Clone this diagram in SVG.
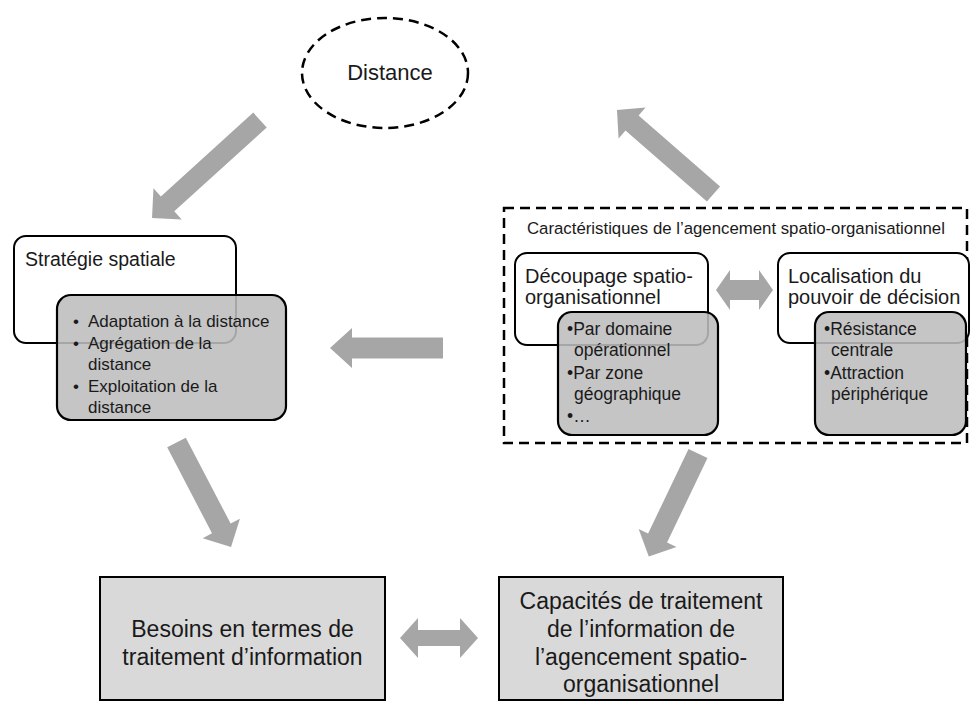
<svg xmlns="http://www.w3.org/2000/svg" width="971" height="702" viewBox="0 0 971 702">
<style>
text{font-family:"Liberation Sans",Arial,sans-serif;fill:#1a1a1a}
.wbox{fill:#fff;stroke:#000;stroke-width:2}
.gbox{fill:#bdbdbd;fill-opacity:0.88;stroke:#000;stroke-width:2.2}
.bbox{fill:#d9d9d9;stroke:#000;stroke-width:2}
.arr{fill:#a6a6a6}
.dash{fill:none;stroke:#000;stroke-width:2.5;stroke-dasharray:10 6}
.tb{font-size:23px}
.td{font-size:22px}
.th{font-size:20px}
.ts{font-size:19.5px}
.tl{font-size:17px}
.tm{font-size:17.5px}
.tc{font-size:16.8px}
</style>
<rect width="971" height="702" fill="#fff"/>
<g id="connectors">
<path class="arr" d="M0,-10 H124.8 V-21 L145.8,0 L124.8,21 V10 H0 Z" transform="translate(260,120) rotate(137.78)"/>
<path class="arr" d="M0,-10 H108 V-20.5 L128,0 L108,20.5 V10 H0 Z" transform="translate(713.5,194) rotate(-138.95)"/>
<path class="arr" d="M443,337.5 H352 V328 L330,348 L352,368 V358.5 H443 Z"/>
<path class="arr" d="M0,-10.5 H96.9 V-21 L117.9,0 L96.9,21 V10.5 H0 Z" transform="translate(176.5,442.5) rotate(62.45)"/>
<path class="arr" d="M0,-10.5 H93.7 V-21 L114.1,0 L93.7,21 V10.5 H0 Z" transform="translate(698,453.5) rotate(115.55)"/>
<path class="arr" d="M716,290 L730,270 V280 H759 V270 L773,290 L759,310 V300 H730 V310 Z"/>
<path class="arr" d="M400,638 L418,618 V630 H460 V618 L478,638 L460,658 V646 H418 V658 Z"/>
</g>
<g id="distance">
<ellipse class="dash" cx="385" cy="73" rx="83" ry="55"/>
<text class="td" x="390" y="80" text-anchor="middle">Distance</text>
</g>
<g id="strategie">
<rect class="wbox" x="14" y="236" width="222" height="107" rx="12"/>
<text class="ts" x="25" y="266">Stratégie spatiale</text>
<rect class="gbox" x="57" y="295" width="229" height="125" rx="14"/>
<text class="tl" x="73" y="327">•</text>
<text class="tl" x="88" y="327">Adaptation à la distance</text>
<text class="tl" x="73" y="349">•</text>
<text class="tl" x="88" y="349">Agrégation de la</text>
<text class="tl" x="88" y="370">distance</text>
<text class="tl" x="73" y="392">•</text>
<text class="tl" x="88" y="392">Exploitation de la</text>
<text class="tl" x="88" y="413">distance</text>
</g>
<g id="agencement">
<rect class="dash" x="504" y="208" width="463" height="235"/>
<text class="tc" x="527" y="234">Caractéristiques de l’agencement spatio-organisationnel</text>
</g>
<g id="decoupage">
<rect class="wbox" x="515" y="253" width="193" height="92" rx="12"/>
<text class="th" x="525" y="283">Découpage spatio-</text>
<text class="th" x="525" y="304">organisationnel</text>
<rect class="gbox" x="558" y="312" width="160" height="123" rx="14"/>
<text class="tm" x="567" y="335">•Par domaine</text>
<text class="tm" x="574" y="356">opérationnel</text>
<text class="tm" x="567" y="379">•Par zone</text>
<text class="tm" x="574" y="400">géographique</text>
<text class="tm" x="567" y="422">•…</text>
</g>
<g id="localisation">
<rect class="wbox" x="778" y="253" width="191" height="90" rx="12"/>
<text class="th" x="788" y="283">Localisation du</text>
<text class="th" x="788" y="304">pouvoir de décision</text>
<rect class="gbox" x="815" y="312" width="151" height="123" rx="14"/>
<text class="tm" x="824" y="335">•Résistance</text>
<text class="tm" x="831" y="356">centrale</text>
<text class="tm" x="824" y="379">•Attraction</text>
<text class="tm" x="831" y="400">périphérique</text>
</g>
<g id="besoins">
<rect class="bbox" x="100" y="577" width="285" height="123"/>
<text class="tb" x="242.5" y="637" text-anchor="middle">Besoins en termes de</text>
<text class="tb" x="242.5" y="665" text-anchor="middle">traitement d’information</text>
</g>
<g id="capacites">
<rect class="bbox" x="499" y="577" width="284" height="123"/>
<text class="tb" x="641" y="609" text-anchor="middle">Capacités de traitement</text>
<text class="tb" x="641" y="637" text-anchor="middle">de l’information de</text>
<text class="tb" x="641" y="665" text-anchor="middle">l’agencement spatio-</text>
<text class="tb" x="641" y="692" text-anchor="middle">organisationnel</text>
</g>
</svg>
